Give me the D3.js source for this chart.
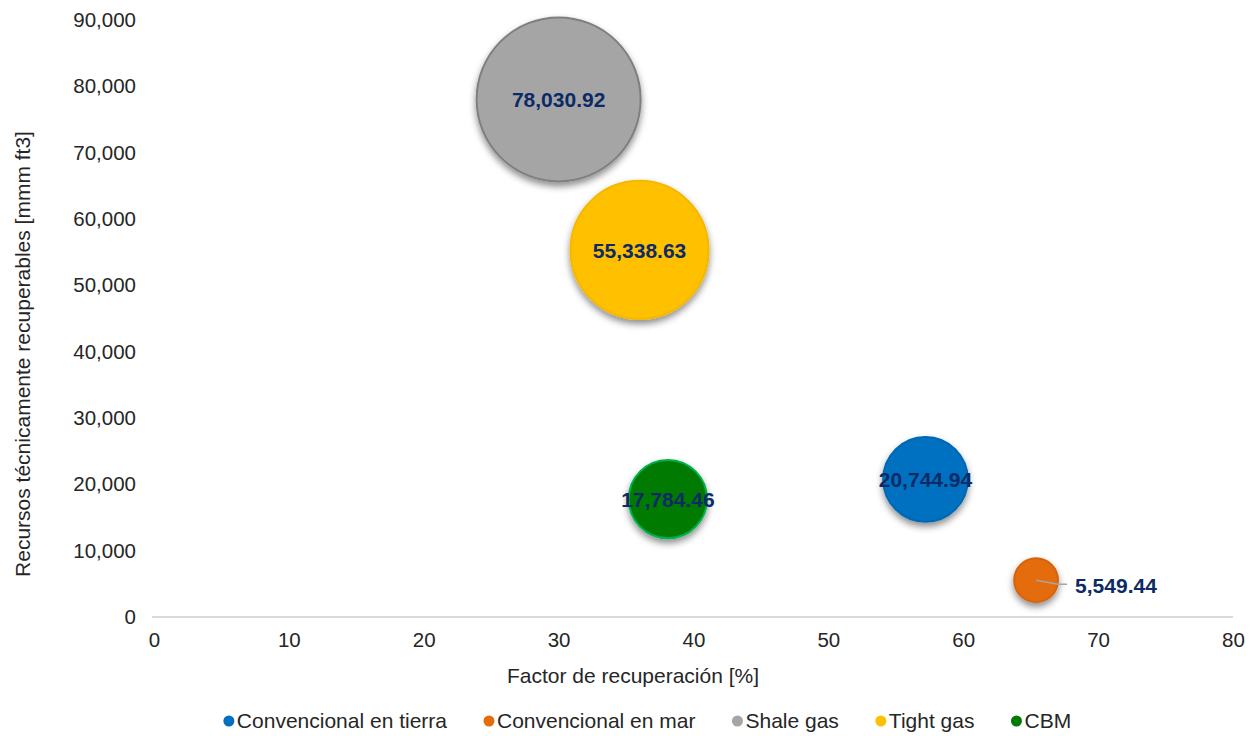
<!DOCTYPE html>
<html>
<head>
<meta charset="utf-8">
<script src="https://cdn.jsdelivr.net/npm/d3@7/dist/d3.min.js"></script>
<style>
  body { margin: 0; background: #fff; }
  svg { font-family: "Liberation Sans", Arial, sans-serif; }
</style>
</head>
<body>
<svg id="chart" width="1255" height="736"></svg>
<script>
// Gas resources by type: recovery factor (%) vs technically recoverable resources
const categories = ["Convencional en tierra", "Convencional en mar", "Shale gas", "Tight gas", "CBM"];
const recoveryFactor = [57.2, 65.4, 30.0, 36.0, 38.1];
const resources = [20744.94, 5549.44, 78030.92, 55338.63, 17784.46];
const colors = ["#0070c0", "#e46c0a", "#a5a5a5", "#ffc000", "#007a00"];
const strokes = ["#0068b3", "#d66408", "#7f7f7f", "#f5b800", "#00b050"];
const xTicks = [0, 10, 20, 30, 40, 50, 60, 70, 80];
const yTicks = [0, 10000, 20000, 30000, 40000, 50000, 60000, 70000, 80000, 90000];

const FONT = 20.5;
const svg = d3.select("#chart");
const x = d3.scaleLinear().domain([0, 80]).range([154, 1233]);
const y = d3.scaleLinear().domain([0, 90000]).range([617, 20]);
const r = d3.scaleSqrt().domain([0, 78030.92]).range([0, 82]);
const fmt = d3.format(",.2f");

// drop shadow for bubbles
const defs = svg.append("defs");
const f = defs.append("filter").attr("id", "shadow")
  .attr("x", "-30%").attr("y", "-30%").attr("width", "160%").attr("height", "170%");
f.append("feDropShadow").attr("dx", 0).attr("dy", 4).attr("stdDeviation", 3.5)
  .attr("flood-color", "#000").attr("flood-opacity", 0.45);

// x axis baseline
svg.append("line").attr("x1", x(0) - 2).attr("x2", x(80)).attr("y1", y(0)).attr("y2", y(0))
  .attr("stroke", "#d9d9d9").attr("stroke-width", 2);

// axes via d3 axis, styled without domain/ticks
const xAxis = svg.append("g").attr("transform", `translate(0,${y(0)})`)
  .call(d3.axisBottom(x).tickValues(xTicks).tickSize(0).tickPadding(15));
const yAxis = svg.append("g").attr("transform", `translate(${x(0)},0)`)
  .call(d3.axisLeft(y).tickValues(yTicks).tickSize(0).tickPadding(18).tickFormat(d3.format(",")));
[xAxis, yAxis].forEach(g => {
  g.select(".domain").remove();
  g.selectAll("text").attr("font-size", FONT).attr("fill", "#262626")
    .attr("font-family", "'Liberation Sans', Arial, sans-serif");
});

// axis titles
svg.append("text").attr("x", 633).attr("y", 683).attr("text-anchor", "middle")
  .attr("font-size", 21).attr("fill", "#262626").text("Factor de recuperación [%]");
svg.append("text").attr("transform", "translate(30,354) rotate(-90)").attr("text-anchor", "middle")
  .attr("font-size", 21).attr("fill", "#262626").text("Recursos técnicamente recuperables [mmm ft3]");

// bubbles (area proportional to resources), largest drawn first
const data = categories.map((c, i) => ({
  name: c, x: recoveryFactor[i], y: resources[i], fill: colors[i], stroke: strokes[i]
}));
const order = [2, 3, 4, 0, 1];
svg.append("g").selectAll("circle").data(order.map(i => data[i])).join("circle")
  .attr("cx", d => x(d.x)).attr("cy", d => y(d.y)).attr("r", d => r(d.y))
  .attr("fill", d => d.fill).attr("stroke", d => d.stroke).attr("stroke-width", 2)
  .attr("filter", "url(#shadow)");

// value labels
const labels = svg.append("g").attr("font-size", 21).attr("font-weight", "bold").attr("fill", "#0c2a66");
data.forEach((d, i) => {
  if (d.name === "Convencional en mar") {
    const cx = x(d.x), cy = y(d.y);
    svg.append("path").attr("d", `M${cx},${cy} L${cx + 22},${cy + 4} L${cx + 31},${cy + 4}`)
      .attr("fill", "none").attr("stroke", "#a6a6a6").attr("stroke-width", 1.5);
    labels.append("text").attr("x", cx + 39).attr("y", cy + 13).attr("text-anchor", "start").text(fmt(d.y));
  } else {
    labels.append("text").attr("x", x(d.x)).attr("y", y(d.y) + 8).attr("text-anchor", "middle").text(fmt(d.y));
  }
});

// legend: items laid out left to right with equal gaps, centred under the chart
const legend = svg.append("g").attr("font-size", 21).attr("fill", "#262626");
const items = categories.map((c, i) => {
  const g = legend.append("g");
  g.append("circle").attr("cx", 6).attr("cy", 0).attr("r", 5.5).attr("fill", colors[i]);
  const t = g.append("text").attr("x", 14).attr("y", 7).text(c);
  return { g, w: 14 + t.node().getComputedTextLength() };
});
const gap = 36;
const total = d3.sum(items, d => d.w) + gap * (items.length - 1);
let cursor = 647 - total / 2;
items.forEach(it => {
  it.g.attr("transform", `translate(${cursor},721)`);
  cursor += it.w + gap;
});
</script>
</body>
</html>
